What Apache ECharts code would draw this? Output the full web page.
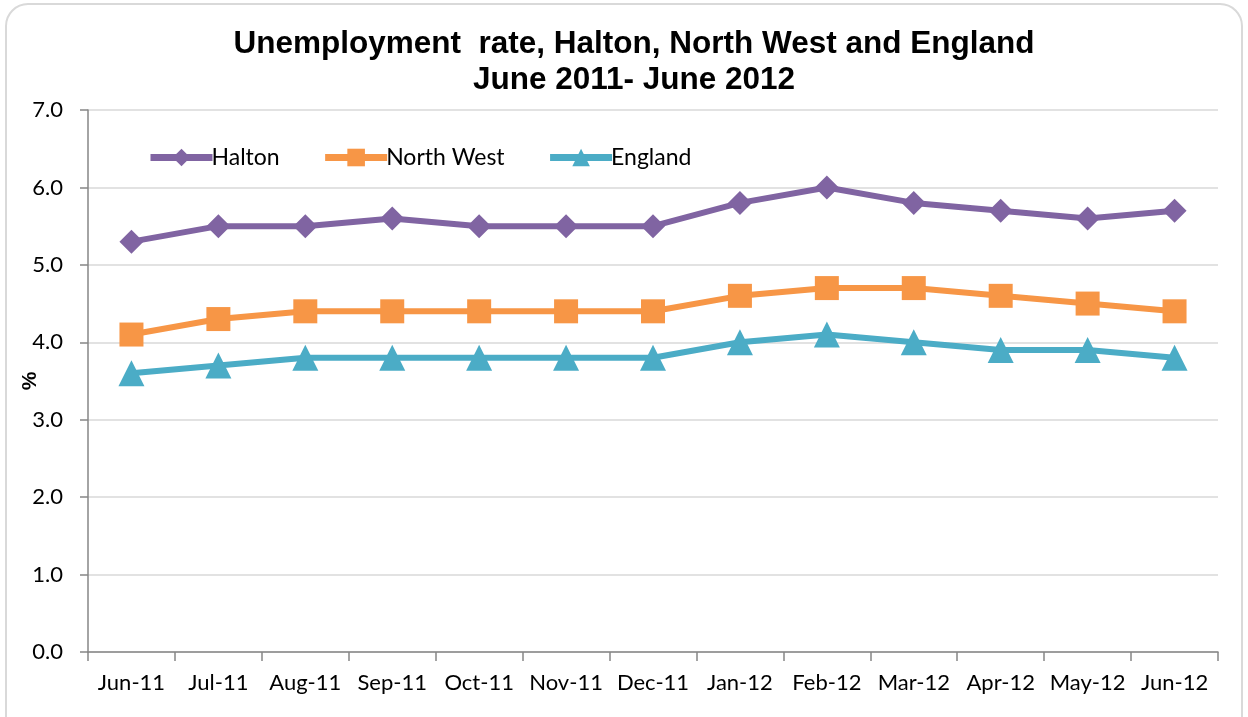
<!DOCTYPE html>
<html><head><meta charset="utf-8">
<script src="https://cdn.jsdelivr.net/npm/echarts@6/dist/echarts.min.js"></script>
<style>html,body{margin:0;padding:0;background:#fff}#c{width:1248px;height:717px}</style>
</head><body><div id="c"></div>
<script>
const categories = ['Jun-11','Jul-11','Aug-11','Sep-11','Oct-11','Nov-11','Dec-11','Jan-12','Feb-12','Mar-12','Apr-12','May-12','Jun-12'];
const halton = [5.3,5.5,5.5,5.6,5.5,5.5,5.5,5.8,6.0,5.8,5.7,5.6,5.7];
const northWest = [4.1,4.3,4.4,4.4,4.4,4.4,4.4,4.6,4.7,4.7,4.6,4.5,4.4];
const england = [3.6,3.7,3.8,3.8,3.8,3.8,3.8,4.0,4.1,4.0,3.9,3.9,3.8];
const titleText = 'Unemployment  rate, Halton, North West and England\nJune 2011- June 2012';

const chart = echarts.init(document.getElementById('c'));
const font = 'Lato, "Open Sans", sans-serif';
function mk(name, data, color, symbol, size){
  return {name, type:'line', data, symbol, symbolSize:size, showSymbol:true,
    lineStyle:{color, width:6}, itemStyle:{color}, animation:false};
}
chart.setOption({
  animation:false,
  graphic:[{type:'rect', shape:{x:6,y:4,width:1236,height:740,r:22},
    style:{fill:'none', stroke:'#d9d9d9', lineWidth:2}, silent:true}],
  title:{text:titleText, left:629, top:21, textAlign:'center',
    textStyle:{fontFamily:'"Liberation Sans", Arial, sans-serif', fontWeight:'bold', fontSize:31.5, lineHeight:36, color:'#000'}},
  legend:{left:142, top:141, itemWidth:62, itemHeight:22, itemGap:42,
    lineStyle:{width:7},
    textStyle:{fontFamily:font, fontSize:23, color:'#000', padding:[0,0,0,-6]},
    data:['Halton','North West','England']},
  grid:{left:88, right:30, top:110, bottom:65, containLabel:false, outerBoundsMode:'none'},
  xAxis:{type:'category', data:categories, boundaryGap:true,
    axisLine:{lineStyle:{color:'#868686', width:1.5}},
    axisTick:{show:true, inside:false, length:9, alignWithLabel:false, lineStyle:{color:'#868686', width:1.5}},
    axisLabel:{fontFamily:font, fontSize:22, color:'#000', margin:20, interval:0}},
  yAxis:{type:'value', min:0, max:7, interval:1, name:'%', nameLocation:'middle', nameGap:47, nameRotate:90,
    nameMoveOverlap:false,
    nameTextStyle:{fontFamily:'"Liberation Sans", Arial, sans-serif', fontWeight:'bold', fontSize:21, color:'#000'},
    axisLine:{show:true, lineStyle:{color:'#868686', width:1.5}},
    axisTick:{show:true, length:8, lineStyle:{color:'#868686', width:1.5}},
    splitLine:{lineStyle:{color:'#d9d9d9', width:1.5}},
    axisLabel:{fontFamily:font, fontSize:22, color:'#000', margin:25, formatter:v=>v.toFixed(1)}},
  series:[
    mk('Halton', halton, '#8064a2', 'diamond', 24),
    mk('North West', northWest, '#f79646', 'rect', 24),
    mk('England', england, '#4bacc6', 'triangle', 26)
  ]
});
</script></body></html>
